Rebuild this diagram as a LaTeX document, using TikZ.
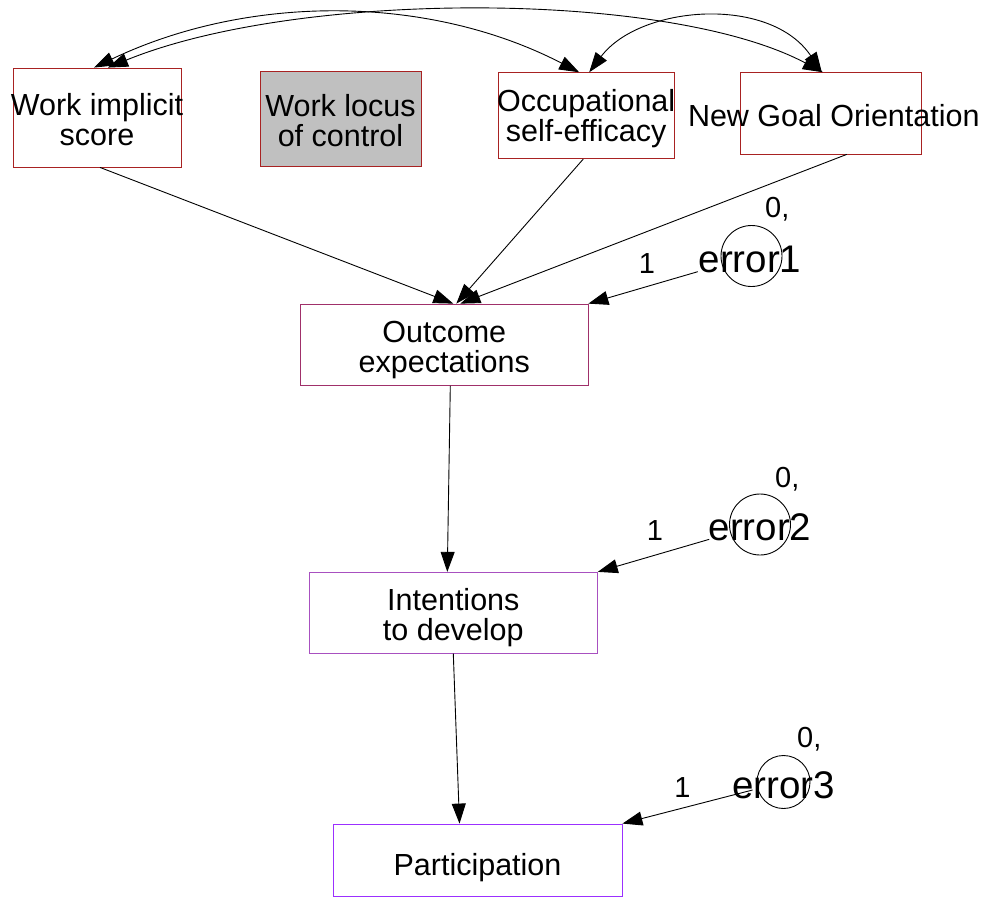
\documentclass[tikz,border=0pt]{standalone}
\usepackage{fontspec}
\setmainfont{Liberation Sans}
\usetikzlibrary{arrows.meta}
\definecolor{topb}{HTML}{A82222}
\definecolor{oeb}{HTML}{A0306A}
\definecolor{itb}{HTML}{A850C0}
\definecolor{pab}{HTML}{9B30FF}
\definecolor{lgray}{HTML}{C0C0C0}
\begin{document}
\begin{tikzpicture}[x=1pt,y=-1pt,
  box/.style={draw=#1, line width=0.85pt, inner sep=0pt, rectangle},
  lbl/.style={align=center, inner sep=0pt, font=\fontsize{30.5}{30}\selectfont},
  errc/.style={draw, circle, line width=0.9pt, inner sep=0pt},
  errtxt/.style={inner sep=0pt, font=\fontsize{38.5}{40}\selectfont},
  numtxt/.style={inner sep=0pt, font=\fontsize{29}{30}\selectfont},
  arr/.style={line width=0.9pt, -{Triangle[length=20pt,width=14pt]}},
  darr/.style={line width=0.9pt, {Triangle[length=20pt,width=14pt]}-{Triangle[length=20pt,width=14pt]}}
]
\useasboundingbox (0,0) rectangle (990,897);

% boxes
\node[box=topb, minimum width=168pt, minimum height=99pt,
  label={[lbl, yshift=-2pt]center:Work implicit\\score}] (wi) at (97,117.5) {};
\node[box=topb, fill=lgray, minimum width=161pt, minimum height=95pt,
  label={[lbl, yshift=-2pt]center:Work locus\\of control}] (wl) at (340.5,118.5) {};
\node[box=topb, minimum width=176pt, minimum height=86pt,
  label={[lbl, yshift=-3pt]center:Occupational\\self-efficacy}] (occ) at (586.2,115.7) {};
\node[box=topb, minimum width=181.7pt, minimum height=81.3pt,
  label={[lbl, yshift=-2pt, xshift=3pt]center:New Goal Orientation}] (ng) at (830.8,113.3) {};
\node[box=oeb, minimum width=287.3pt, minimum height=81.3pt,
  label={[lbl, yshift=-5pt]center:Outcome\\expectations}] (oe) at (444.3,344.7) {};
\node[box=itb, minimum width=288pt, minimum height=81pt,
  label={[lbl, yshift=-5pt]center:Intentions\\to develop}] (it) at (453.3,612.8) {};
\node[box=pab, minimum width=289pt, minimum height=72pt,
  label={[lbl, yshift=-8pt]center:Participation}] (pa) at (477.5,860) {};

% error circles and texts
\node[errc, minimum size=61pt] (e1) at (751.5,256) {};
\node[errc, minimum size=61pt] (e2) at (760,524.5) {};
\node[errc, minimum size=53pt] (e3) at (783.5,782) {};
\node[errtxt, anchor=base] (e1t) at (750,272.7) {error1};
\node[errtxt, anchor=base] (e2t) at (760,540) {error2};
\node[errtxt, anchor=base] (e3t) at (783.5,798) {error3};
\node[numtxt, anchor=base west] (e1v) at (765,217) {0,};
\node[numtxt, anchor=base west] (e2v) at (775,487) {0,};
\node[numtxt, anchor=base west] (e3v) at (797,747) {0,};
\node[numtxt, anchor=base] (e1w) at (647,273) {1};
\node[numtxt, anchor=base] (e2w) at (655,540.7) {1};
\node[numtxt, anchor=base] (e3w) at (682.5,797) {1};

% covariance arcs
\draw[darr] ([xshift=-3pt]wi.north) .. controls (248,-6) and (428,-6) .. ([xshift=-7pt]occ.north);
\draw[darr] ([xshift=11pt]wi.north) .. controls (298,-10) and (668,-10) .. ([xshift=-8pt]ng.north);
\draw[darr] ([xshift=3pt]occ.north) .. controls (640,5) and (770,-5) .. ([xshift=-9pt]ng.north);

% regression paths
\draw[arr] ([xshift=3pt]wi.south) -- ([xshift=9pt]oe.north);
\draw[arr] ([xshift=-3pt]occ.south) -- ([xshift=12pt]oe.north);
\draw[arr] ([xshift=16pt]ng.south) -- ([xshift=16pt]oe.north);
\draw[arr] ([xshift=6pt]oe.south) -- ([xshift=-6pt]it.north);
\draw[arr] ([xshift=0pt]it.south) -- ([xshift=-18pt]pa.north);

% error paths
\draw[arr, shorten <=25pt] (e1) -- (oe.north east);
\draw[arr, shorten <=22pt] (e2) -- (it.north east);
\draw[arr, shorten <=5pt] (e3) -- (pa.north east);
\end{tikzpicture}
\end{document}
